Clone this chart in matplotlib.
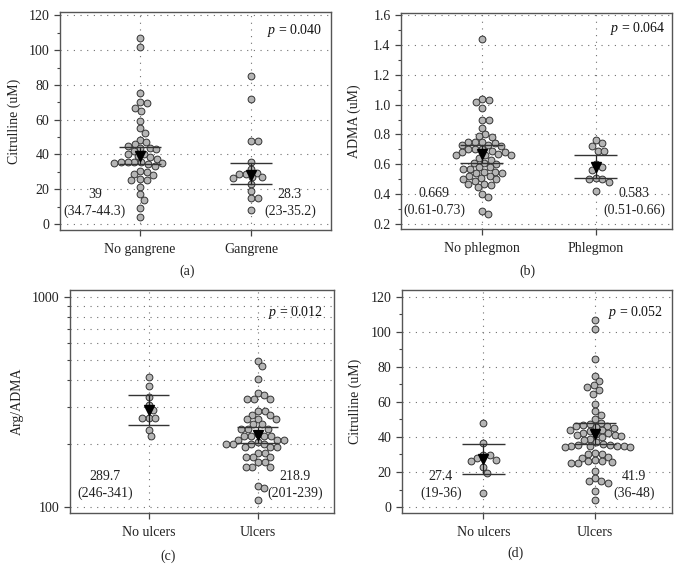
import numpy as np
import matplotlib
matplotlib.use("Agg")
import matplotlib.pyplot as plt
from matplotlib.ticker import MultipleLocator, FixedLocator, FixedFormatter, NullFormatter

plt.rcParams['font.family'] = ['Liberation Serif', 'DejaVu Serif']
plt.rcParams['mathtext.fontset'] = 'custom'
plt.rcParams['mathtext.rm'] = 'Liberation Serif'
plt.rcParams['mathtext.it'] = 'Liberation Serif:italic'
plt.rcParams['font.size'] = 10

# data
# (a) citrulline by gangrene
cit_no_gangrene = [107, 102, 75.5, 69.5, 70, 67, 65, 59.5, 55, 52.5, 48.5, 47, 46, 45, 43.5,
                   43.5, 43, 42, 40.5, 40, 39, 38.5, 37.5, 35.5, 35.5, 35.5, 35.5, 35, 35, 34.5,
                   33.5, 30.5, 30, 28.5, 28, 26, 25, 25, 21, 17, 14, 9, 4]
cit_gangrene = [85, 72, 47.5, 48, 35.5, 31.5, 29.5, 29, 28.5, 27, 27, 26.5, 23, 19, 15, 15, 8]
# (b) ADMA by phlegmon
adma_no_phlegmon = [1.44, 1.04, 1.03, 1.02, 0.98, 0.90, 0.90, 0.84, 0.80, 0.79, 0.78,
                    0.75, 0.75, 0.75, 0.74, 0.73, 0.73, 0.72, 0.70, 0.70, 0.70, 0.69,
                    0.68, 0.68, 0.67, 0.66, 0.66, 0.66, 0.64, 0.63, 0.61, 0.61, 0.60,
                    0.58, 0.58, 0.57, 0.57, 0.55, 0.55, 0.54, 0.54, 0.52, 0.52, 0.51,
                    0.50, 0.50, 0.49, 0.47, 0.47, 0.46, 0.45, 0.40, 0.38, 0.29, 0.27]
adma_phlegmon = [0.76, 0.74, 0.72, 0.69, 0.69, 0.60, 0.58, 0.56, 0.51, 0.50, 0.50, 0.48, 0.42]
# (c) Arg/ADMA by ulcers
ratio_no_ulcers = [413, 377, 332, 307, 290, 264, 264, 264, 233, 217]
ratio_ulcers = [495, 469, 408, 347, 340, 326, 326, 326, 286, 286, 273, 273, 261, 261, 261,
                247, 247, 236, 236, 236, 222, 217, 217, 217, 217, 208, 208, 208, 204, 200,
                200, 200, 200, 192, 192, 192, 181, 181, 172, 172, 172, 163, 163, 155, 155,
                155, 126, 123, 108]
# (d) citrulline by ulcers
cit_no_ulcers = [48, 36.5, 29.5, 29.5, 28, 27, 26.5, 23, 19.5, 8]
cit_ulcers = [106.5, 101.5, 84.5, 75, 72, 69.5, 68.5, 66.5, 64.5, 59, 54.5, 52.5, 50, 48,
              47.5, 47, 46.5, 46, 45.5, 45, 44, 44, 43.5, 42.5, 42, 41.5, 41, 41, 40.5, 40,
              39, 38, 37, 36, 35.5, 35.5, 35, 35, 35, 35, 34.5, 34.5, 31, 30.5, 30, 28.5, 28,
              27, 26.5, 26, 25.5, 25, 25, 20.5, 16.5, 15, 15, 13.5, 9, 4]

# median and 95% CI per group
stats_a = [(39, 34.7, 44.3), (28.3, 23, 35.2)]
stats_b = [(0.669, 0.61, 0.73), (0.583, 0.51, 0.66)]
stats_c = [(289.7, 246, 341), (218.9, 201, 239)]
stats_d = [(27.4, 19, 36), (41.9, 36, 48)]
labels_a = ["39\n(34.7-44.3)", "28.3\n(23-35.2)"]
labels_b = ["0.669\n(0.61-0.73)", "0.583\n(0.51-0.66)"]
labels_c = ["289.7\n(246-341)", "218.9\n(201-239)"]
labels_d = ["27.4\n(19-36)", "41.9\n(36-48)"]

W, H = 685, 582
fig = plt.figure(figsize=(W / 100, H / 100), dpi=100)


def swarm_x(ax, xc, vals, d=6.9):
    # simple beeswarm in pixel space
    pts = ax.transData.transform(np.column_stack([np.full(len(vals), xc), vals]))
    x0 = pts[0, 0]
    ys = pts[:, 1]
    order = np.argsort(-ys)
    placed = []
    xs = np.zeros(len(vals))
    for i in order:
        y = ys[i]
        cands = [0.0]
        for px, py in placed:
            dy = y - py
            if abs(dy) < d:
                dx = np.sqrt(d * d - dy * dy)
                cands += [px + dx, px - dx]
        cands.sort(key=abs)
        for c in cands:
            if all((c - px) ** 2 + (y - py) ** 2 >= d * d - 1e-6 for px, py in placed):
                break
        placed.append((c, y))
        xs[i] = c
    inv = ax.transData.inverted()
    return inv.transform(np.column_stack([x0 + xs, ys]))[:, 0]


def panel(box, groups, cats, stats, texts, ylim, xlim, ylabel, ptext, pxy, txt_x, ylab_x,
          log=False, major=None, minor=None):
    l, r, t, b = box
    ax = fig.add_axes([l / W, 1 - b / H, (r - l) / W, (b - t) / H])
    if log:
        ax.set_yscale('log')
    ax.set_xlim(*xlim)
    ax.set_ylim(*ylim)
    for s in ax.spines.values():
        s.set_color('#555555')
        s.set_linewidth(1.0)
    ax.set_xticks([1, 2])
    ax.set_xticklabels(cats)
    if log:
        ax.yaxis.set_major_locator(FixedLocator([100, 1000]))
        ax.yaxis.set_major_formatter(FixedFormatter(['100', '1000']))
        ax.yaxis.set_minor_locator(FixedLocator(range(200, 1000, 100)))
        ax.yaxis.set_minor_formatter(NullFormatter())
        glines = list(range(100, 1001, 100))
    else:
        ax.yaxis.set_major_locator(MultipleLocator(major))
        ax.yaxis.set_minor_locator(MultipleLocator(minor))
        glines = [v for v in np.arange(0, 200, major) if ylim[0] < v < ylim[1]]
    ax.tick_params(axis='both', which='major', length=4.5, width=0.9, color='#444444',
                   labelsize=10, pad=3, labelcolor='#222222')
    ax.tick_params(axis='x', pad=5)
    ax.tick_params(axis='y', which='minor', length=2.5, width=0.8, color='#444444')
    for g in glines:
        ax.axhline(g, color='#707070', lw=0.8, ls=(0, (1, 5)), zorder=0)
    for xc in (1, 2):
        ax.axvline(xc, color='#707070', lw=0.8, ls=(0, (1, 5)), zorder=0)

    for k, vals in enumerate(groups):
        xc = k + 1
        xs = swarm_x(ax, xc, vals)
        ax.scatter(xs, vals, s=24, facecolor='#b5b5b5', edgecolor='#333333',
                   linewidths=0.7, zorder=3)
        med, lo, hi = stats[k]
        ax.plot([xc, xc], [lo, hi], color='#222222', lw=0.9, zorder=4)
        ax.hlines([lo, hi], xc - 0.19, xc + 0.19, color='#333333', lw=1.0, zorder=4)
        ax.plot([xc], [med], marker='v', ms=6.5, color='black', zorder=5)
        ax.text(txt_x[k], 0.125, texts[k], transform=ax.get_xaxis_transform(),
                ha='center', va='center', fontsize=10, linespacing=1.3, color='#222222')

    ax.text(pxy[0], pxy[1], ptext, transform=ax.transAxes, ha='right', va='center',
            fontsize=10, color='#111111')
    ax.set_ylabel(ylabel, fontsize=10, color='#222222')
    ax.yaxis.set_label_coords(ylab_x, 0.5)
    return ax


panel((60, 331, 12, 230), [cit_no_gangrene, cit_gangrene], ["No gangrene", "Gangrene"],
      stats_a, labels_a, (-3.5, 122), (0.28, 2.72), "Citrulline (uM)",
      "$p$ = 0.040", (0.967, 0.913), (0.595, 2.35), -0.145, major=20, minor=10)
panel((401, 672, 13, 229), [adma_no_phlegmon, adma_phlegmon], ["No phlegmon", "Phlegmon"],
      stats_b, labels_b, (0.167, 1.613), (0.29, 2.67), "ADMA (uM)",
      "$p$ = 0.064", (0.978, 0.926), (0.58, 2.34), -0.148, major=0.2, minor=0.1)
panel((70, 334, 290, 513), [ratio_no_ulcers, ratio_ulcers], ["No ulcers", "Ulcers"],
      stats_c, labels_c, (93.6, 1076), (0.28, 2.70), "Arg/ADMA",
      "$p$ = 0.012", (0.958, 0.897), (0.60, 2.34), -0.174, log=True)
panel((402, 672, 290, 513), [cit_no_ulcers, cit_ulcers], ["No ulcers", "Ulcers"],
      stats_d, labels_d, (-3.4, 123.8), (0.27, 2.69), "Citrulline (uM)",
      "$p$ = 0.052", (0.967, 0.897), (0.617, 2.35), -0.148, major=20, minor=10)

for lab, x, y in [("(a)", 187, 271), ("(b)", 527, 271), ("(c)", 168, 556), ("(d)", 516, 553)]:
    fig.text(x / W, 1 - y / H, lab, ha='center', va='center', fontsize=10, color='#222222')

fig.savefig("out.png", dpi=100)
